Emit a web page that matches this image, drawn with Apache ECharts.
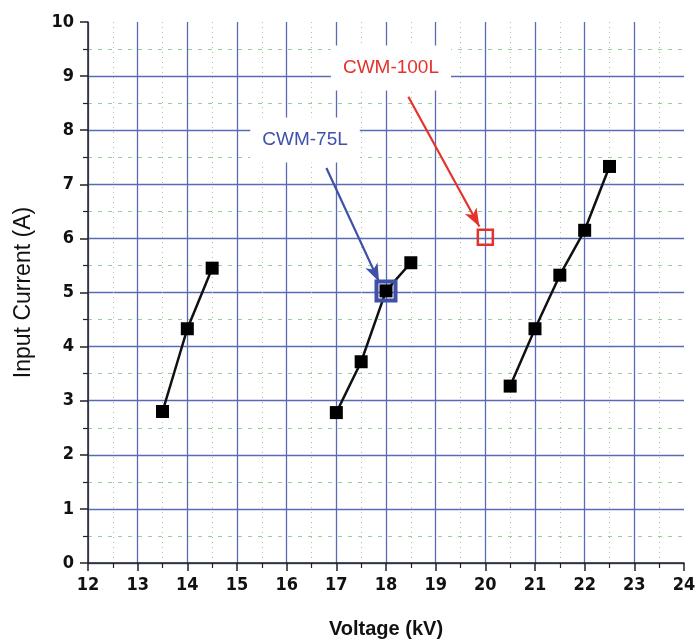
<!DOCTYPE html>
<html><head><meta charset="utf-8">
<script src="https://cdn.jsdelivr.net/npm/echarts@6/dist/echarts.min.js"></script>
<style>html,body{margin:0;padding:0;background:#fff}#c{width:699px;height:644px}</style>
</head><body><div id="c"></div>
<script>
// Data
var groupA = [[13.5, 2.8], [14.0, 4.33], [14.5, 5.45]];
var groupB = [[17.0, 2.78], [17.5, 3.72], [18.0, 5.03], [18.5, 5.55]];
var groupC = [[20.5, 3.27], [21.0, 4.33], [21.5, 5.32], [22.0, 6.15], [22.5, 7.33]];
var cwm75Point = [[18.0, 5.03]];
var cwm100Point = [[20.0, 6.02]];
var cwm75Label = [[16.37, 7.82, 'CWM-75L']];
var cwm100Label = [[18.1, 9.15, 'CWM-100L']];
var cwm75Arrow = [[16.8, 7.3], [17.86, 5.2]];
var cwm100Arrow = [[18.45, 8.62], [19.88, 6.22]];
var xTicks = {min: 12, max: 24, interval: 1};
var yTicks = {min: 0, max: 10, interval: 1};

var FONT = "'DejaVu Sans Condensed', 'Liberation Sans Narrow', 'Liberation Sans', Arial, sans-serif";
var TFONT = "'Liberation Sans', Arial, sans-serif";
var BLUE = '#3f51a8';
var RED = '#e5322d';
var GRID = '#5a6bb5';

function lineSeries(d) {
  return {
    type: 'line', data: d, symbol: 'rect', symbolSize: 13,
    lineStyle: {color: '#111', width: 2.5},
    itemStyle: {color: '#000'}, z: 3, animation: false
  };
}

var chart = echarts.init(document.getElementById('c'));
chart.setOption({
  animation: false,
  grid: {left: 88, right: 15, top: 22, bottom: 81},
  xAxis: {
    type: 'value', min: xTicks.min, max: xTicks.max, interval: xTicks.interval,
    name: 'Voltage (kV)', nameLocation: 'middle', nameGap: 56,
    nameTextStyle: {fontFamily: TFONT, fontSize: 20, fontWeight: 'bold', color: '#111'},
    axisLine: {show: true, onZero: false, lineStyle: {color: '#222', width: 1.5}},
    axisTick: {show: true, inside: false, length: 8, lineStyle: {color: '#222', width: 1.5}},
    minorTick: {show: true, splitNumber: 2, length: 5, lineStyle: {color: '#222', width: 1.2}},
    axisLabel: {fontFamily: FONT, fontSize: 18, fontWeight: 'bold', color: '#111', margin: 13},
    splitLine: {show: true, showMaxLine: false, lineStyle: {color: GRID, width: 1.3}},
    minorSplitLine: {show: true, lineStyle: {color: '#9c9', width: 1, type: [1, 4]}}
  },
  yAxis: {
    type: 'value', min: yTicks.min, max: yTicks.max, interval: yTicks.interval,
    name: 'Input Current (A)', nameLocation: 'middle', nameGap: 53,
    nameTextStyle: {fontFamily: TFONT, fontSize: 23, fontWeight: 'normal', color: '#111'},
    axisLine: {show: true, onZero: false, lineStyle: {color: '#222', width: 1.5}},
    axisTick: {show: true, inside: false, length: 8, lineStyle: {color: '#222', width: 1.5}},
    minorTick: {show: true, splitNumber: 2, length: 5, lineStyle: {color: '#222', width: 1.2}},
    axisLabel: {fontFamily: FONT, fontSize: 18, fontWeight: 'bold', color: '#111', margin: 14},
    splitLine: {show: true, showMaxLine: false, lineStyle: {color: GRID, width: 1.3}},
    minorSplitLine: {show: true, lineStyle: {color: '#9c9', width: 1, type: [4, 6]}}
  },
  series: [
    lineSeries(groupA),
    lineSeries(groupB),
    lineSeries(groupC),
    {
      type: 'scatter', data: cwm75Point, symbol: 'rect', symbolSize: 19,
      itemStyle: {color: 'rgba(0,0,0,0)', borderColor: BLUE, borderWidth: 4, opacity: 1}, z: 4
    },
    {
      type: 'scatter', data: cwm100Point, symbol: 'rect', symbolSize: 15,
      itemStyle: {color: 'rgba(0,0,0,0)', borderColor: RED, borderWidth: 2.5, opacity: 1}, z: 4
    },
    {
      type: 'scatter', data: cwm75Label, symbolSize: 0, z: 5, itemStyle: {opacity: 1},
      label: {show: true, position: 'inside', formatter: function (p) { return p.data[2]; },
        color: BLUE, fontFamily: TFONT, fontSize: 19,
        backgroundColor: '#fff', padding: [13, 12]}
    },
    {
      type: 'scatter', data: cwm100Label, symbolSize: 0, z: 5, itemStyle: {opacity: 1},
      label: {show: true, position: 'inside', formatter: function (p) { return p.data[2]; },
        color: RED, fontFamily: TFONT, fontSize: 19,
        backgroundColor: '#fff', padding: [13, 12]}
    },
    {
      type: 'line', data: [], z: 5,
      markLine: {
        silent: true, symbol: ['none', 'arrow'], symbolSize: [10, 18], label: {show: false},
        lineStyle: {color: BLUE, width: 2.2, type: 'solid', opacity: 1},
        data: [[{coord: cwm75Arrow[0]}, {coord: cwm75Arrow[1]}]]
      }
    },
    {
      type: 'line', data: [], z: 5,
      markLine: {
        silent: true, symbol: ['none', 'arrow'], symbolSize: [10, 18], label: {show: false},
        lineStyle: {color: RED, width: 2.2, type: 'solid', opacity: 1},
        data: [[{coord: cwm100Arrow[0]}, {coord: cwm100Arrow[1]}]]
      }
    }
  ]
});
</script></body></html>
